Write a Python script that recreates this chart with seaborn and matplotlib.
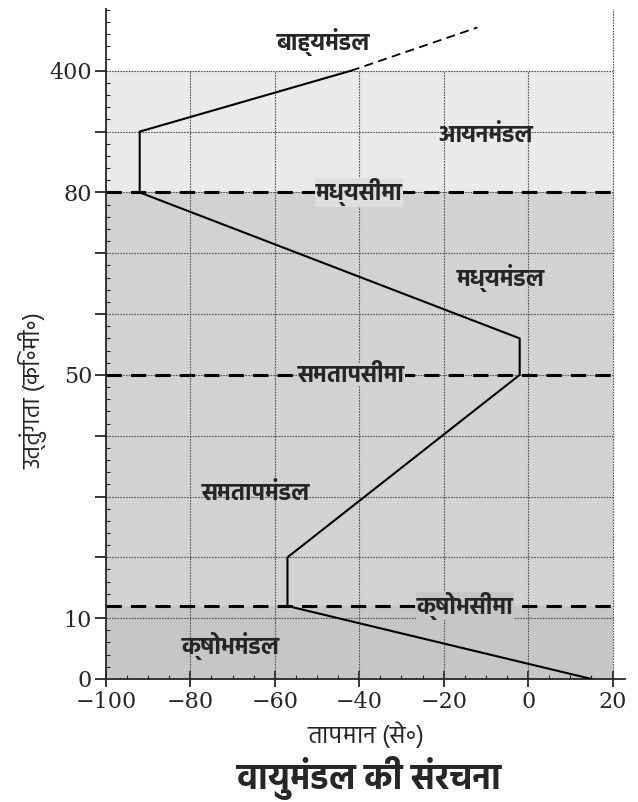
import numpy as np
import pandas as pd
import matplotlib
matplotlib.use("Agg")
import matplotlib.pyplot as plt
import seaborn as sns
from matplotlib import font_manager
from matplotlib.ft2font import FT2Font

# temperature profile (deg C vs altitude km)
temp = [15, -57, -57, -2, -2, -92, -92, -42]
alt = [0, 12, 20, 50, 56, 80, 240, 400]
ext_temp = [-42, -12]      # dashed continuation above 400
ext_alt = [400, 514]

# the y axis is not linear: every grid step is one "level"
y_levels = [0, 10, 20, 30, 40, 50, 60, 70, 80, 240, 400]
y_labels = ["0", "10", "", "", "", "50", "", "", "80", "", "400"]
x_ticks = [-100, -80, -60, -40, -20, 0, 20]

regions = ["बाह्यमंडल", "आयनमंडल", "मध्यमंडल", "समतापमंडल", "क्षोभमंडल"]
region_x = [-48.5, -10, -6.5, -64.5, -70.5]
region_y = [477, 232, 66, 30.5, 5.5]
boundaries = [80, 50, 12]
bound_names = ["मध्यसीमा", "समतापसीमा", "क्षोभसीमा"]
bound_x = [-40, -42, -15]


def pick_devanagari(prefs):
    # register every installed font with Devanagari glyphs, return preferred family
    names = []
    for path in font_manager.findSystemFonts():
        try:
            cmap = FT2Font(path).get_charmap()
        except Exception:
            continue
        if 0x0915 in cmap and 0x093E in cmap:
            try:
                font_manager.fontManager.addfont(path)
                names.append(font_manager.FontProperties(fname=path).get_name())
            except Exception:
                pass
    for p in prefs:
        if p in names:
            return p
    return names[0] if names else None


sns.set_style("ticks")
hindi = pick_devanagari(["Hind", "Noto Sans Devanagari", "Mukta", "Lohit Devanagari", "FreeSans"])
fam = [hindi, "DejaVu Serif"] if hindi else ["DejaVu Serif"]
plt.rcParams["font.family"] = fam

lev = np.array(y_levels, float)
idx = np.arange(len(y_levels), dtype=float)


def fwd(a):
    a = np.asarray(a, float)
    out = np.interp(a, lev, idx)
    out = np.where(a > 400, 10 + (a - 400) / 160.0, out)
    out = np.where(a < 0, a / 10.0, out)
    return out


def inv(i):
    i = np.asarray(i, float)
    out = np.interp(i, idx, lev)
    out = np.where(i > 10, 400 + (i - 10) * 160.0, out)
    out = np.where(i < 0, i * 10.0, out)
    return out


fig = plt.figure(figsize=(6.38, 8.02), dpi=100)
ax = fig.add_axes([0.166, 0.1534, 0.814, 0.8356])
ax.set_yscale("function", functions=(fwd, inv))
ax.set_xlim(-100, 23)
ax.set_ylim(0, 563)

# shaded background bands
ax.fill_between([-100, 20], 80, 400, color="#eaeaea", lw=0, zorder=0)
ax.fill_between([-100, 20], 0, 80, color="#d2d2d2", lw=0, zorder=0)
ax.fill_between([-100, 20], 0, 12, color="#c6c6c6", lw=0, zorder=0)

# grid
ax.hlines(y_levels, -100, 20, color="#555555", lw=0.8, ls=(0, (1.5, 1)), zorder=1)
ax.vlines(x_ticks[1:-1], 0, 400, color="#555555", lw=0.8, ls=(0, (1.5, 1)), zorder=1)
ax.vlines(20, 0, 563, color="#555555", lw=0.8, ls=(0, (1.5, 1)), zorder=1)

# boundary lines
ax.hlines(boundaries, -100, 20, color="black", lw=2.2, ls=(0, (5, 3)), zorder=2)

prof = pd.DataFrame({"temp": temp, "alt": alt})
sns.lineplot(data=prof, x="temp", y="alt", sort=False, estimator=None,
             color="black", lw=1.5, ax=ax, zorder=3)
sns.lineplot(x=ext_temp, y=ext_alt, sort=False, estimator=None,
             color="black", lw=1.3, ls=(0, (5, 3)), ax=ax, zorder=3)

for name, x, y in zip(regions, region_x, region_y):
    ax.text(x, y, name, ha="center", va="center", fontsize=17, fontweight="bold", zorder=4)

band_col = {80: "#dedede", 50: "#d2d2d2", 12: "#c6c6c6"}
for name, x, y in zip(bound_names, bound_x, boundaries):
    ax.text(x, y, name, ha="center", va="center", fontsize=17, fontweight="bold", zorder=4,
            bbox=dict(facecolor=band_col[y], edgecolor="none", pad=0.3))

ax.set_yticks(y_levels)
ax.set_yticklabels(y_labels)
ax.set_yticks(inv(np.arange(0, 11.01, 0.2)), minor=True)
ax.set_xticks(x_ticks)
ax.set_xticks(np.arange(-100, 21, 5), minor=True)
ax.set_xticklabels(["−100", "−80", "−60", "−40", "−20", "0", "20"])
ax.tick_params(axis="y", which="major", direction="out", length=8, width=1.3, labelsize=16, pad=2)
ax.tick_params(axis="y", which="minor", direction="in", length=3, width=0.8)
ax.tick_params(axis="x", which="major", direction="inout", length=12, width=1.3, labelsize=16, pad=3)
ax.tick_params(axis="x", which="minor", direction="in", length=3, width=0.8)
for lab in ax.get_xticklabels() + ax.get_yticklabels():
    lab.set_family("DejaVu Serif")

sns.despine(ax=ax)
ax.spines["left"].set_linewidth(1.3)
ax.spines["bottom"].set_linewidth(1.3)

ax.set_xlabel("तापमान (से॰)", fontsize=18, labelpad=6)
ax.set_ylabel("उत्तुंगता (कि॰मी॰)", fontsize=17)
ax.yaxis.set_label_coords(-0.112, 0.43)
fig.text(0.578, 0.03, "वायुमंडल की संरचना", ha="center", va="center", fontsize=25, fontweight="bold")

fig.savefig("out.png", dpi=100)
